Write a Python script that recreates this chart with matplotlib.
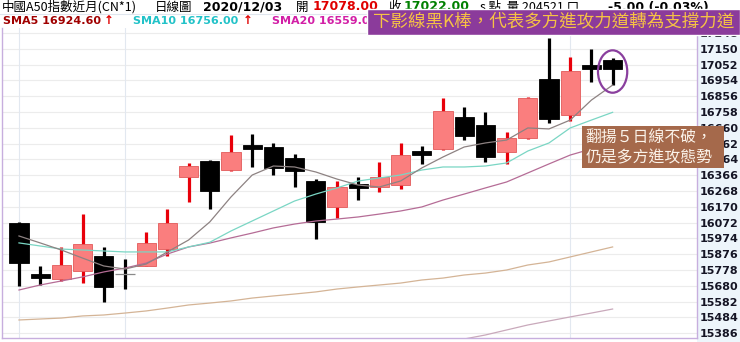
import matplotlib
matplotlib.use('Agg')
import matplotlib.pyplot as plt
from matplotlib.patches import Rectangle, Ellipse
import numpy as np

# ---------------- data ----------------
opens = [16070, 15745, 15722, 15771, 15865, 15753, 15803, 15908, 16355, 16454,
         16398, 16541, 16541, 16473, 16330, 16169, 16302, 16293, 16305, 16507,
         16529, 16727, 16678, 16510, 16597, 16963, 16739, 17037, 17078]
highs = [16075, 15803, 15921, 16125, 15921, 15846, 16014, 16156, 16442, 16460,
         16615, 16622, 16566, 16498, 16342, 16330, 16355, 16448, 16566, 16547,
         16845, 16789, 16758, 16634, 16851, 17217, 17099, 17149, 17093]
lows = [15679, 15685, 15710, 15697, 15580, 15660, 15800, 15865, 16200, 16156,
        16395, 16417, 16367, 16293, 15970, 16101, 16212, 16262, 16280, 16435,
        16525, 16584, 16448, 16435, 16591, 16690, 16702, 16944, 16925]
closes = [15821, 15741, 15809, 15939, 15673, 15753, 15945, 16070, 16423, 16268,
          16510, 16535, 16411, 16392, 16076, 16293, 16299, 16355, 16491, 16504,
          16764, 16609, 16479, 16597, 16845, 16715, 17012, 17035, 17022]

sma5 = [15989, 15946, 15902, 15852, 15803, 15784, 15815, 15890, 15964, 16076,
        16231, 16367, 16423, 16417, 16386, 16342, 16305, 16293, 16330, 16411,
        16479, 16541, 16566, 16584, 16659, 16653, 16708, 16832, 16925]
sma10 = [15946, 15927, 15908, 15902, 15896, 15890, 15890, 15890, 15921, 15950,
         16020, 16082, 16144, 16206, 16249, 16287, 16330, 16349, 16367, 16398,
         16417, 16417, 16423, 16442, 16516, 16566, 16659, 16708, 16756]
sma20 = [15654, 15685, 15710, 15735, 15766, 15790, 15821, 15877, 15921, 15945,
         15977, 16007, 16039, 16063, 16082, 16094, 16107, 16125, 16144, 16169,
         16212, 16249, 16287, 16324, 16380, 16436, 16491, 16529, 16559]
sma60 = [15468, 15474, 15480, 15493, 15499, 15511, 15524, 15542, 15561, 15573,
         15586, 15604, 15617, 15629, 15642, 15660, 15673, 15685, 15697, 15716,
         15728, 15747, 15759, 15778, 15809, 15828, 15859, 15890, 15921]
sma120 = [np.nan] * 20 + [15325, 15350, 15375, 15406, 15437, 15462, 15487, 15511, 15536]

price_ticks = [17248, 17150, 17052, 16954, 16856, 16758, 16660, 16562, 16464, 16366,
               16268, 16170, 16072, 15974, 15876, 15778, 15680, 15582, 15484, 15386]
month_marks = [0, 5, 26]

title_text = "中國A50指數近月(CN*1)"
chart_type = "日線圖"
date_text = "2020/12/03"
open_val = "17078.00"
close_val = "17022.00"
volume_text = "量 204521 口"
change_text = "-5.00 (-0.03%)"
sma_labels = [("SMA5", "16924.60"), ("SMA10", "16756.00"), ("SMA20", "16559.00")]
banner_text = "下影線黑K棒，代表多方進攻力道轉為支撐力道"
note_lines = ["翻揚５日線不破，", "仍是多方進攻態勢"]

CJK = ['Noto Sans CJK TC', 'DejaVu Sans']

# ---------------- figure ----------------
W, H = 740, 342
fig = plt.figure(figsize=(7.4, 3.42), dpi=100)
fig.patch.set_facecolor('white')

def fx(x):
    return x / W

def fy(y):
    return 1 - y / H

# right price-axis background
fig.patches.append(Rectangle((fx(697), 0), fx(43), fy(28), transform=fig.transFigure,
                             fc='#edf5fb', ec='none', zorder=-5))

ax = fig.add_axes([fx(2), 1 - 338 / H, 695 / W, 310 / H])
ax.set_facecolor('white')
px_per_unit = 15.8 / 98.0
ymin = 17248 - (338 - 33) / px_per_unit
ymax = 17248 - (28 - 33) / px_per_unit
n = len(closes)
xs = np.arange(n)
ax.set_xlim(-0.80, 31.98)
ax.set_ylim(ymin, ymax)

for t in price_ticks:
    ax.axhline(t, color='#ececec', lw=0.8, zorder=0)
for m in month_marks:
    ax.axvline(m, color='#e2e8f0', lw=0.8, zorder=0)

# candles
unit_per_px = 98.0 / 15.8
min_body = 4 * unit_per_px
for i in range(n):
    o, h, l, c = opens[i], highs[i], lows[i], closes[i]
    up = c > o
    if up:
        wc, fc, ec = '#e8000a', '#fa7e7e', '#e25a5a'
    else:
        wc, fc, ec = '#000000', '#000000', '#000000'
    ax.vlines(i, l, h, color=wc, lw=2.3, zorder=3)
    if o == c:
        ax.hlines(o, i - 0.45, i + 0.45, color='#8a8a8a', lw=0.9, zorder=4)
    else:
        bottom = min(o, c)
        height = abs(c - o)
        if height < min_body:
            bottom = (o + c) / 2 - min_body / 2
            height = min_body
        ax.add_patch(Rectangle((i - 0.45, bottom), 0.9, height, fc=fc, ec=ec,
                               lw=0.6, zorder=4))

ax.plot(xs, sma60, color='#d4b496', lw=0.9, zorder=2)
ax.plot(xs, sma120, color='#c9a9bb', lw=0.9, zorder=2)
ax.plot(xs, sma20, color='#b56c96', lw=0.9, zorder=5)
ax.plot(xs, sma10, color='#7ad6c4', lw=0.9, zorder=5)
ax.plot(xs, sma5, color='#8d8282', lw=0.9, zorder=5)

# circle on last candle
last = n - 1
cy = (highs[last] + lows[last]) / 2
ax.add_patch(Ellipse((last, cy), 1.38, (highs[last] - lows[last]) + 95,
                     fc='none', ec='#8a3f9e', lw=1.6, zorder=6))

# axes styling
ax.set_xticks([])
ax.yaxis.tick_right()
ax.set_yticks(price_ticks)
ax.set_yticklabels([str(t) for t in price_ticks])
ax.tick_params(axis='y', length=0, pad=2, labelsize=8, labelcolor='#151525')
for lab in ax.get_yticklabels():
    lab.set_fontweight('bold')
for s in ['left', 'bottom', 'right']:
    ax.spines[s].set_color('#c7aede')
    ax.spines[s].set_linewidth(1.0)
ax.spines['top'].set_visible(False)

# ---------------- header ----------------
r1 = 7
fig.text(fx(2), fy(r1), title_text, family=CJK, fontsize=9, va='center', ha='left')
fig.text(fx(155), fy(r1), chart_type, family=CJK, fontsize=9, va='center', ha='left')
fig.text(fx(203), fy(r1), date_text, fontsize=9, fontweight='bold', va='center', ha='left')
fig.text(fx(296), fy(r1), "開", family=CJK, fontsize=9, va='center', ha='left')
fig.text(fx(313), fy(r1), open_val, fontsize=9, fontweight='bold', color='#e00000',
         va='center', ha='left')
fig.text(fx(388), fy(r1), "收", family=CJK, fontsize=9, va='center', ha='left')
fig.text(fx(404), fy(r1), close_val, fontsize=9, fontweight='bold', color='#008000',
         va='center', ha='left')
fig.text(fx(480), fy(r1), "s 點  " + volume_text, family=CJK, fontsize=9,
         va='center', ha='left')
fig.text(fx(608), fy(r1), change_text, fontsize=9, fontweight='bold', color='#000000',
         va='center', ha='left')
fig.lines.append(plt.Line2D([0, 1], [fy(14), fy(14)], transform=fig.transFigure,
                            color='#dfe6ee', lw=0.8))

r2 = 21
sma_cols = ['#a00000', '#22c2c8', '#d21fa6']
sma_x = [3, 133, 272]
arrow_x = [104, 243, None]
for (name, val), col, x0, ax0 in zip(sma_labels, sma_cols, sma_x, arrow_x):
    fig.text(fx(x0), fy(r2), f"{name} {val}", fontsize=8, fontweight='bold', color=col,
             va='center', ha='left')
    if ax0 is not None:
        fig.text(fx(ax0), fy(r2), "↑", fontsize=8.5, fontweight='bold', color='#e00000',
                 va='center', ha='left')

# banner
fig.patches.append(Rectangle((fx(367), fy(35)), fx(740 - 367), 26 / H,
                             transform=fig.transFigure, fc='#8b3b9b', ec='white',
                             lw=1.0, zorder=8))
fig.text(fx(554), fy(21.5), banner_text, family=CJK, fontsize=12.6, color='#f6c244',
         va='center', ha='center', zorder=9)

# note box
fig.patches.append(Rectangle((fx(582), fy(168)), fx(724 - 582), 42 / H,
                             transform=fig.transFigure, fc='#a5694b', ec='none',
                             zorder=8))
fig.text(fx(586), fy(137), note_lines[0], family=CJK, fontsize=11.4, color='#fbf3ea',
         va='center', ha='left', zorder=9)
fig.text(fx(586), fy(158), note_lines[1], family=CJK, fontsize=11.4, color='#fbf3ea',
         va='center', ha='left', zorder=9)

fig.savefig('out.png', dpi=100)
